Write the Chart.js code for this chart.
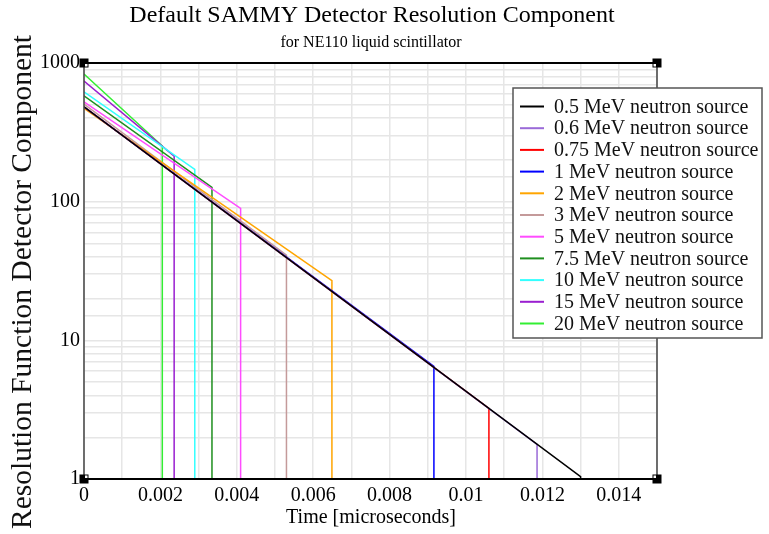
<!DOCTYPE html>
<html>
<head>
<meta charset="utf-8">
<title>Default SAMMY Detector Resolution Component</title>
<script src="https://cdn.jsdelivr.net/npm/chart.js@4.4.1/dist/chart.umd.min.js"></script>
<style>
  html, body { margin: 0; padding: 0; background: #fff; }
  canvas { display: block; }
</style>
</head>
<body>
<canvas id="myChart" width="769" height="534"></canvas>
<script>
'use strict'

// neutron source energies (MeV)
const energies = ['0.5', '0.6', '0.75', '1', '2', '3', '5', '7.5', '10', '15', '20'];
// value of each curve at t = 0
const startValues = [483, 483, 483, 483, 471, 505, 525, 580, 620, 741, 832];
// time (microseconds) where each curve is cut off, and its value there
const cutTimes = [0.013, 0.01186, 0.0106, 0.00916, 0.00649, 0.0053, 0.0041, 0.00335, 0.0029, 0.00236, 0.00205];
const cutValues = [1.04, 1.78, 3.23, 6.5, 26.9, 41.2, 89.5, 127, 171, 213, 252];
// after the cut every curve falls to the bottom of the plot
const floorValue = 1;

const yMin = 1;
const yMax = 1000;
const xMin = 0;
const xMax = 0.015;

const lineColors = ['#000000', '#9a6ad8', '#ff0000', '#0000ff', '#ffa500', '#c49a9a',
  '#ff4cff', '#1f8f1f', '#33ffff', '#9a1fd0', '#33ee33'];

const serif = '"Liberation Serif", "Times New Roman", serif';

var datasets = [];
for (let i = 0; i < energies.length; i++) {
  datasets.push({
    label: `${energies[i]} MeV neutron source`,
    data: [
      { x: 0, y: startValues[i] },
      { x: cutTimes[i], y: cutValues[i] },
      { x: cutTimes[i], y: floorValue },
    ],
    borderColor: lineColors[i],
    backgroundColor: lineColors[i],
    borderWidth: 1.5,
    pointRadius: 0,
    tension: 0,
    fill: false,
  });
}

// frame, corner marks, titles and the boxed legend
const sammyDecor = {
  id: 'sammyDecor',
  afterDraw(chart) {
    const ctx = chart.ctx;
    const a = chart.chartArea;
    ctx.save();

    // plot frame
    ctx.lineWidth = 2;
    ctx.strokeStyle = '#000';
    ctx.beginPath();
    ctx.moveTo(a.left, a.top); ctx.lineTo(a.right, a.top);
    ctx.moveTo(a.left, a.bottom); ctx.lineTo(a.right, a.bottom);
    ctx.stroke();
    ctx.lineWidth = 1.5;
    ctx.strokeStyle = '#444';
    ctx.beginPath();
    ctx.moveTo(a.left, a.top); ctx.lineTo(a.left, a.bottom);
    ctx.moveTo(a.right, a.top); ctx.lineTo(a.right, a.bottom);
    ctx.stroke();

    // corner marks
    const corners = [[a.left, a.top, 1, 1], [a.right, a.top, -1, 1], [a.left, a.bottom, 1, -1], [a.right, a.bottom, -1, -1]];
    corners.forEach(function (c) {
      ctx.fillStyle = '#000';
      ctx.fillRect(c[0] - 4.5, c[1] - 4.5, 9, 9);
      ctx.fillStyle = '#fff';
      ctx.fillRect(c[2] > 0 ? c[0] + 1 : c[0] - 3.5, c[3] > 0 ? c[1] + 1 : c[1] - 3.5, 2.5, 2.5);
    });

    // titles
    ctx.fillStyle = '#000';
    ctx.textAlign = 'center';
    ctx.textBaseline = 'middle';
    ctx.font = '24px ' + serif;
    ctx.fillText('Default SAMMY Detector Resolution Component', 372, 16);
    ctx.font = '16px ' + serif;
    ctx.fillText('for NE110 liquid scintillator', 371, 43);
    ctx.font = '20px ' + serif;
    ctx.fillText('Time [microseconds]', 371, 518);

    ctx.save();
    ctx.translate(23, 282);
    ctx.rotate(-Math.PI / 2);
    ctx.font = '29.5px ' + serif;
    ctx.fillStyle = '#111';
    ctx.fillText('Resolution Function Detector Component', 0, 0);
    ctx.restore();

    // legend box
    const lx = 513, ly = 88, lw = 249, lh = 250;
    ctx.fillStyle = '#fff';
    ctx.fillRect(lx, ly, lw, lh);
    ctx.strokeStyle = '#555';
    ctx.lineWidth = 1.5;
    ctx.strokeRect(lx, ly, lw, lh);

    ctx.font = '20px ' + serif;
    ctx.textAlign = 'left';
    ctx.textBaseline = 'middle';
    chart.data.datasets.forEach(function (ds, i) {
      const y = 106.5 + i * 21.7;
      ctx.strokeStyle = ds.borderColor;
      ctx.lineWidth = 2;
      ctx.beginPath();
      ctx.moveTo(520, y);
      ctx.lineTo(544, y);
      ctx.stroke();
      ctx.fillStyle = '#111';
      ctx.fillText(ds.label, 554, y + 1);
    });

    ctx.restore();
  }
};

const ctx = document.getElementById('myChart').getContext('2d');

// eslint-disable-next-line no-unused-vars
let chart = new Chart(ctx, {
  type: 'line',
  data: { datasets: datasets },
  options: {
    responsive: false,
    animation: false,
    devicePixelRatio: 1,
    layout: { padding: { left: 40, right: 112, top: 63, bottom: 25 } },
    plugins: {
      legend: { display: false },
      title: { display: false },
      tooltip: { enabled: false },
    },
    scales: {
      x: {
        type: 'linear',
        min: xMin,
        max: xMax,
        afterFit(scale) { scale.height = 30; },
        border: { display: false },
        grid: { color: '#e6e6e6', lineWidth: 1.5, drawTicks: false },
        ticks: {
          stepSize: 0.001,
          autoSkip: false,
          maxRotation: 0,
          padding: 5,
          color: '#000',
          font: { family: serif, size: 20 },
          callback: function (v) {
            const k = Math.round(v * 1000);
            return k % 2 === 0 ? String(+(k / 1000).toFixed(3)) : '';
          },
        },
      },
      y: {
        type: 'logarithmic',
        min: yMin,
        max: yMax,
        afterFit(scale) { scale.width = 44; },
        border: { display: false },
        grid: { color: '#e6e6e6', lineWidth: 1.5, drawTicks: false },
        ticks: {
          autoSkip: false,
          padding: 4,
          color: '#000',
          font: { family: serif, size: 20 },
          callback: function (v) {
            const p = Math.log10(v);
            return Math.abs(p - Math.round(p)) < 1e-9 ? String(v) : '';
          },
        },
      },
    },
  },
  plugins: [sammyDecor],
});
</script>
</body>
</html>
